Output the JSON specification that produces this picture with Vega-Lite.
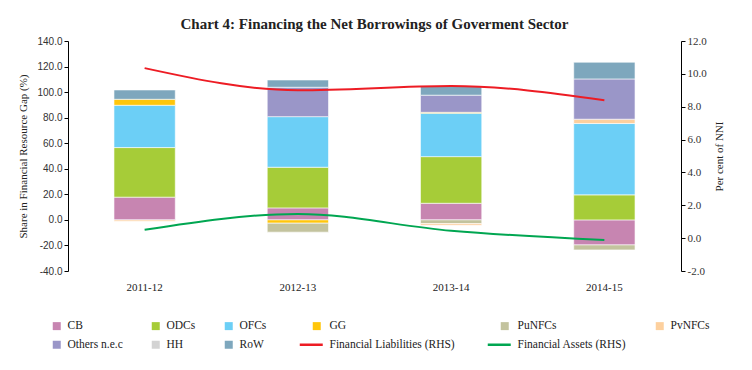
{
  "$schema": "https://vega.github.io/schema/vega-lite/v6.json",
  "width": 613,
  "height": 230,
  "autosize": {"type": "none"},
  "padding": {"left": 68, "top": 41, "right": 71, "bottom": 99},
  "background": "white",
  "title": {"text": "Chart 4: Financing the Net Borrowings of Goverment Sector", "font": "Liberation Serif", "fontSize": 15, "fontWeight": "bold", "color": "#222222", "anchor": "middle", "offset": 3},
  "config": {"view": {"stroke": null}},
  "datasets": {
    "bars": [
      {"year": "2011-12", "series": "CB", "ord": 1, "value": 17.8},
      {"year": "2011-12", "series": "ODCs", "ord": 2, "value": 38.8},
      {"year": "2011-12", "series": "OFCs", "ord": 3, "value": 33.1},
      {"year": "2011-12", "series": "GG", "ord": 4, "value": 4.7},
      {"year": "2011-12", "series": "PvNFCs", "ord": 6, "value": -1.0},
      {"year": "2011-12", "series": "RoW", "ord": 9, "value": 7.3},
      {"year": "2012-13", "series": "CB", "ord": 1, "value": 9.4},
      {"year": "2012-13", "series": "ODCs", "ord": 2, "value": 31.8},
      {"year": "2012-13", "series": "OFCs", "ord": 3, "value": 39.6},
      {"year": "2012-13", "series": "GG", "ord": 4, "value": -2.6},
      {"year": "2012-13", "series": "PuNFCs", "ord": 5, "value": -7.0},
      {"year": "2012-13", "series": "Others n.e.c", "ord": 7, "value": 23.0},
      {"year": "2012-13", "series": "RoW", "ord": 9, "value": 5.7},
      {"year": "2013-14", "series": "CB", "ord": 1, "value": 13.0},
      {"year": "2013-14", "series": "ODCs", "ord": 2, "value": 36.5},
      {"year": "2013-14", "series": "OFCs", "ord": 3, "value": 34.0},
      {"year": "2013-14", "series": "GG", "ord": 4, "value": 0.7},
      {"year": "2013-14", "series": "PuNFCs", "ord": 5, "value": -2.9},
      {"year": "2013-14", "series": "PvNFCs", "ord": 6, "value": -1.3},
      {"year": "2013-14", "series": "Others n.e.c", "ord": 7, "value": 13.4},
      {"year": "2013-14", "series": "RoW", "ord": 9, "value": 6.8},
      {"year": "2014-15", "series": "CB", "ord": 1, "value": -19.6},
      {"year": "2014-15", "series": "ODCs", "ord": 2, "value": 19.6},
      {"year": "2014-15", "series": "OFCs", "ord": 3, "value": 55.8},
      {"year": "2014-15", "series": "PuNFCs", "ord": 5, "value": -3.9},
      {"year": "2014-15", "series": "PvNFCs", "ord": 6, "value": 3.4},
      {"year": "2014-15", "series": "Others n.e.c", "ord": 7, "value": 31.5},
      {"year": "2014-15", "series": "RoW", "ord": 9, "value": 13.1}
    ],
    "lines": [
      {"year": "2011-12", "series": "Financial Liabilities (RHS)", "value": 10.35},
      {"year": "2012-13", "series": "Financial Liabilities (RHS)", "value": 9.0},
      {"year": "2013-14", "series": "Financial Liabilities (RHS)", "value": 9.26},
      {"year": "2014-15", "series": "Financial Liabilities (RHS)", "value": 8.4},
      {"year": "2011-12", "series": "Financial Assets (RHS)", "value": 0.51},
      {"year": "2012-13", "series": "Financial Assets (RHS)", "value": 1.47},
      {"year": "2013-14", "series": "Financial Assets (RHS)", "value": 0.45},
      {"year": "2014-15", "series": "Financial Assets (RHS)", "value": -0.12}
    ]
  },
  "layer": [
    {
      "layer": [
        {
          "data": {"name": "bars"},
          "mark": {"type": "bar", "stroke": "#ffffff", "strokeOpacity": 0.6, "strokeWidth": 1},
          "encoding": {
            "x": {
              "field": "year", "type": "ordinal",
              "scale": {"paddingInner": 0.6, "paddingOuter": 0.3},
              "axis": {"title": null, "domain": false, "ticks": false, "labelAngle": 0, "labelPadding": 10, "labelFont": "Liberation Serif", "labelFontSize": 11, "labelColor": "#222222"}
            },
            "y": {
              "field": "value", "type": "quantitative", "stack": "zero",
              "scale": {"domain": [-40, 140], "nice": false},
              "axis": {"title": "Share in Financial Resource Gap (%)", "titleFont": "Liberation Serif", "titleFontSize": 11, "titleFontWeight": "normal", "titleColor": "#222222", "titlePadding": 8, "values": [-40, -20, 0, 20, 40, 60, 80, 100, 120, 140], "format": ".1f", "labelExpr": "replace(datum.label, '\u2212', '-')", "labelOverlap": false, "labelFont": "Liberation Sans", "labelFontSize": 10, "labelColor": "#333333", "grid": false, "domainColor": "#000000", "tickColor": "#000000", "tickSize": 4}
            },
            "order": {"field": "ord", "type": "quantitative"},
            "color": {
              "field": "series", "type": "nominal",
              "scale": {
                "domain": ["CB", "ODCs", "OFCs", "GG", "PuNFCs", "PvNFCs", "Others n.e.c", "HH", "RoW", "Financial Liabilities (RHS)", "Financial Assets (RHS)"],
                "range": ["#c785b1", "#a6cc38", "#6ccff6", "#ffc60b", "#c3c39e", "#fdd09e", "#9a96c8", "#d3d3d3", "#7ea7bd", "#ed1c24", "#00a651"]
              },
              "legend": {
                "title": null, "orient": "none", "legendX": -17, "legendY": 279, "columns": 6, "direction": "horizontal",
                "columnPadding": 27, "rowPadding": 6, "labelFont": "Liberation Serif", "labelFontSize": 11.5, "labelColor": "#222222",
                "labelOffset": {"expr": "(datum.value === 'Financial Liabilities (RHS)' || datum.value === 'Financial Assets (RHS)') ? 12.5 : ((datum.value === 'GG' || datum.value === 'PuNFCs') ? 7 : 5)"},
                "symbolOffset": {"expr": "(datum.value === 'Financial Liabilities (RHS)' || datum.value === 'Financial Assets (RHS)') ? 7.5 : ((datum.value === 'GG' || datum.value === 'PuNFCs') ? 13 : 0)"},
                "symbolType": {"expr": "(datum.value === 'Financial Liabilities (RHS)' || datum.value === 'Financial Assets (RHS)') ? 'stroke' : 'square'"},
                "symbolSize": {"expr": "(datum.value === 'Financial Liabilities (RHS)' || datum.value === 'Financial Assets (RHS)') ? 529 : 64"},
                "symbolStrokeWidth": {"expr": "(datum.value === 'Financial Liabilities (RHS)' || datum.value === 'Financial Assets (RHS)') ? 2.5 : 0"},
                "symbolOpacity": 1
              }
            }
          }
        },
        {
          "mark": {"type": "rule", "color": "#000000", "strokeWidth": 1.2},
          "encoding": {"y": {"datum": 0, "type": "quantitative",
            "axis": {"title": "Share in Financial Resource Gap (%)", "titleFont": "Liberation Serif", "titleFontSize": 11, "titleFontWeight": "normal", "titleColor": "#222222", "titlePadding": 8, "values": [-40, -20, 0, 20, 40, 60, 80, 100, 120, 140], "format": ".1f", "labelExpr": "replace(datum.label, '\u2212', '-')", "labelOverlap": false, "labelFont": "Liberation Sans", "labelFontSize": 10, "labelColor": "#333333", "grid": false, "domainColor": "#000000", "tickColor": "#000000", "tickSize": 4}}}
        }
      ]
    },
    {
      "data": {"name": "lines"},
      "mark": {"type": "line", "interpolate": "monotone", "strokeWidth": 2},
      "encoding": {
        "x": {"field": "year", "type": "ordinal"},
        "y": {
          "field": "value", "type": "quantitative",
          "scale": {"domain": [-2, 12], "nice": false},
          "axis": {"orient": "right", "title": "Per cent of NNI", "titleAngle": 270, "titleFont": "Liberation Serif", "titleFontSize": 11, "titleFontWeight": "normal", "titleColor": "#222222", "titlePadding": 18, "values": [-2, 0, 2, 4, 6, 8, 10, 12], "format": ".1f", "labelExpr": "replace(datum.label, '\u2212', '-')", "labelFont": "Liberation Serif", "labelFontSize": 11, "labelColor": "#333333", "grid": false, "domainColor": "#000000", "tickColor": "#000000", "tickSize": 4}
        },
        "color": {"field": "series", "type": "nominal"}
      }
    }
  ],
  "resolve": {"scale": {"y": "independent"}}
}
